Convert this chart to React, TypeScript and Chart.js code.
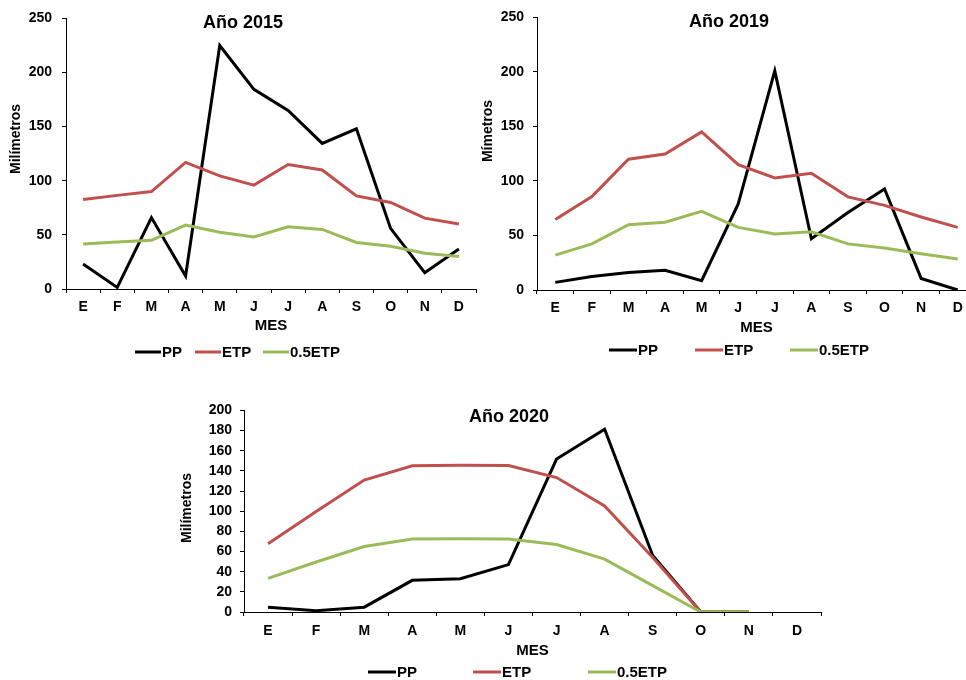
import React, { useEffect, useRef } from "react";
import { Chart, registerables } from "chart.js";

Chart.register(...registerables);
Chart.defaults.font.family = '"Liberation Sans", Arial, sans-serif';
Chart.defaults.color = "#000";

// ---------- data ----------
const months = ["E", "F", "M", "A", "M", "J", "J", "A", "S", "O", "N", "D"];
const seriesNames = ["PP", "ETP", "0.5ETP"];
const seriesColors = ["#000000", "#C0504D", "#9BBB59"];

const pp2015 = [23, 1.5, 66, 12, 225, 184.5, 165, 134.5, 148, 56, 15, 37];
const etp2015 = [82.7, 86.5, 90, 117, 104.5, 96, 115, 110, 86, 80, 65.5, 60];
const half2015 = [41.5, 43.5, 45, 59, 52.5, 48, 57.5, 55, 43, 39.5, 33, 30];

const pp2019 = [7, 12.4, 16, 18, 8.5, 79, 201, 47, 71, 92.7, 10.6, 0];
const etp2019 = [64.6, 85.7, 120, 124.7, 145, 115, 102.7, 107, 85.4, 77.6, 67, 57.4];
const half2019 = [32, 42.3, 59.8, 62.2, 72.2, 57.4, 51.3, 53.4, 42.3, 38.6, 33.2, 28.4];

const pp2020 = [4.8, 1.3, 4.8, 31.4, 33, 47, 151.7, 181.4, 56, 0, 0, null];
const etp2020 = [67.8, 99.8, 130.9, 145, 145.6, 145.3, 133.4, 105.3, 54, 0, 0, null];
const half2020 = [33.3, 49.6, 65, 72.3, 72.6, 72.3, 66.9, 52.5, 26.2, 0, 0, null];

const FONT = '"Liberation Sans", Arial, sans-serif';

// ---------- plugins ----------
const textPlugin = {
  id: "extraTexts",
  afterDraw(chart: any, _a: any, opts: any) {
    const ctx = chart.ctx;
    for (const t of opts.items || []) {
      ctx.save();
      ctx.translate(t.x, t.y);
      if (t.rotate) ctx.rotate(t.rotate);
      ctx.font = `bold ${t.size}px ${FONT}`;
      ctx.fillStyle = "#000";
      ctx.textAlign = "center";
      ctx.textBaseline = "middle";
      ctx.fillText(t.text, 0, 0);
      ctx.restore();
    }
  },
};

const legendPlugin = {
  id: "lineLegend",
  afterDraw(chart: any, _a: any, opts: any) {
    const ctx = chart.ctx;
    chart.data.datasets.forEach((ds: any, i: number) => {
      const x = opts.starts[i];
      const y = opts.y;
      ctx.save();
      ctx.strokeStyle = ds.borderColor;
      ctx.lineWidth = 3;
      ctx.beginPath();
      ctx.moveTo(x, y);
      ctx.lineTo(x + opts.lineLength, y);
      ctx.stroke();
      ctx.font = `bold ${opts.size}px ${FONT}`;
      ctx.fillStyle = "#000";
      ctx.textAlign = "left";
      ctx.textBaseline = "middle";
      ctx.fillText(ds.label, x + opts.lineLength + 1, y + 1);
      ctx.restore();
    });
  },
};

type PanelProps = {
  left: number;
  top: number;
  width: number;
  height: number;
  series: (number | null)[][];
  yMax: number;
  yStep: number;
  yWidth: number;
  xHeight: number;
  padding: { left: number; right: number; top: number; bottom: number };
  tickSize: number;
  yTickPad: number;
  xTickPad: number;
  xTitlePad: number;
  title: string;
  titleX: number;
  titleY: number;
  titleSize: number;
  yTitle: string;
  yTitleX: number;
  yTitleY: number;
  legendY: number;
  legendStarts: number[];
  legendLine: number;
  legendSize: number;
};

function Panel(p: PanelProps) {
  const ref = useRef<HTMLCanvasElement | null>(null);
  useEffect(() => {
    if (!ref.current) return;
    const chart = new Chart(ref.current, {
      type: "line",
      data: {
        labels: months,
        datasets: p.series.map((vals, i) => ({
          label: seriesNames[i],
          data: vals,
          borderColor: seriesColors[i],
          backgroundColor: seriesColors[i],
          borderWidth: 3,
          pointRadius: 0,
          tension: 0,
          fill: false,
          order: 3 - i,
        })),
      },
      options: {
        responsive: false,
        animation: false,
        layout: { padding: p.padding },
        plugins: {
          legend: { display: false },
          tooltip: { enabled: false },
          extraTexts: {
            items: [
              { text: p.title, x: p.titleX - p.left, y: p.titleY - p.top, size: p.titleSize },
              { text: p.yTitle, x: p.yTitleX - p.left, y: p.yTitleY - p.top, size: 14, rotate: -Math.PI / 2 },
            ],
          },
          lineLegend: {
            y: p.legendY - p.top,
            starts: p.legendStarts.map((s) => s - p.left),
            lineLength: p.legendLine,
            size: p.legendSize,
          },
        } as any,
        scales: {
          x: {
            type: "category",
            offset: true,
            afterFit: (s: any) => {
              s.height = p.xHeight;
            },
            grid: {
              offset: true,
              drawOnChartArea: false,
              drawTicks: true,
              tickLength: 4,
              color: "#000",
            },
            border: { display: true, color: "#000", width: 1 },
            ticks: {
              autoSkip: false,
              maxRotation: 0,
              padding: p.xTickPad,
              color: "#000",
              font: { size: p.tickSize, weight: "bold", family: FONT },
            },
            title: {
              display: true,
              text: "MES",
              color: "#000",
              font: { size: 15, weight: "bold", family: FONT },
              padding: { top: 0, bottom: p.xTitlePad },
            },
          },
          y: {
            min: 0,
            max: p.yMax,
            afterFit: (s: any) => {
              s.width = p.yWidth;
            },
            grid: {
              drawOnChartArea: false,
              drawTicks: true,
              tickLength: 4,
              color: "#000",
            },
            border: { display: true, color: "#000", width: 1 },
            ticks: {
              stepSize: p.yStep,
              padding: p.yTickPad,
              color: "#000",
              font: { size: p.tickSize, weight: "bold", family: FONT },
            },
          },
        },
      } as any,
      plugins: [textPlugin, legendPlugin],
    });
    return () => chart.destroy();
  }, []);
  return (
    <canvas
      ref={ref}
      width={p.width}
      height={p.height}
      style={{ position: "absolute", left: p.left, top: p.top, width: p.width, height: p.height }}
    />
  );
}

export default function App() {
  return (
    <div
      style={{
        position: "absolute",
        left: 0,
        top: 0,
        width: 966,
        height: 680,
        overflow: "hidden",
        background: "#fff",
      }}
    >
      <Panel
        left={0}
        top={0}
        width={480}
        height={365}
        series={[pp2015, etp2015, half2015]}
        yMax={250}
        yStep={50}
        yWidth={66}
        xHeight={50}
        padding={{ left: 0, right: 4, top: 14, bottom: 26 }}
        tickSize={14}
        yTickPad={10}
        xTickPad={6}
        xTitlePad={4}
        title="Año 2015"
        titleX={243}
        titleY={23}
        titleSize={18}
        yTitle="Milímetros"
        yTitleX={16}
        yTitleY={139}
        legendY={352}
        legendStarts={[135, 195, 263]}
        legendLine={26}
        legendSize={15}
      />
      <Panel
        left={480}
        top={0}
        width={510}
        height={365}
        series={[pp2019, etp2019, half2019]}
        yMax={250}
        yStep={50}
        yWidth={57}
        xHeight={50}
        padding={{ left: 0, right: 14, top: 14, bottom: 25 }}
        tickSize={14}
        yTickPad={9}
        xTickPad={6}
        xTitlePad={3}
        title="Año 2019"
        titleX={729}
        titleY={22}
        titleSize={18}
        yTitle="Mímetros"
        yTitleX={488}
        yTitleY={131}
        legendY={350}
        legendStarts={[609, 695, 790]}
        legendLine={28}
        legendSize={15}
      />
      <Panel
        left={170}
        top={394}
        width={680}
        height={286}
        series={[pp2020, etp2020, half2020]}
        yMax={200}
        yStep={20}
        yWidth={74}
        xHeight={50}
        padding={{ left: 0, right: 29, top: 10, bottom: 18 }}
        tickSize={14}
        yTickPad={8}
        xTickPad={7}
        xTitlePad={2}
        title="Año 2020"
        titleX={509}
        titleY={417}
        titleSize={18}
        yTitle="Milímetros"
        yTitleX={187}
        yTitleY={508}
        legendY={672}
        legendStarts={[368, 473, 588]}
        legendLine={28}
        legendSize={15}
      />
    </div>
  );
}
